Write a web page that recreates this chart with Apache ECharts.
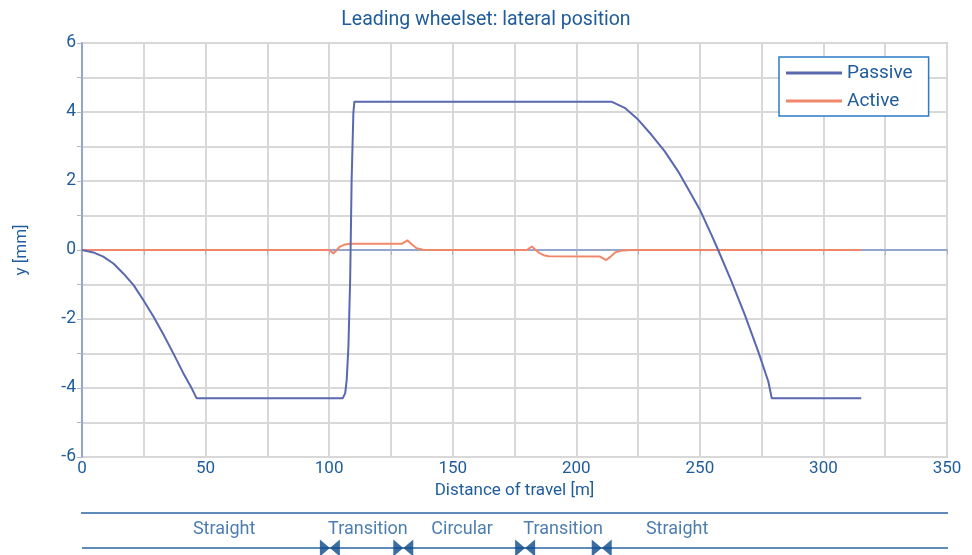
<!DOCTYPE html>
<html>
<head>
<meta charset="utf-8">
<script src="https://cdn.jsdelivr.net/npm/echarts@6/dist/echarts.min.js"></script>
<style>html,body{margin:0;padding:0;background:#fff}#c{width:972px;height:555px}</style>
</head>
<body>
<div id="c"></div>
<script>
// ---- data ----
const passiveX = [0, 4.6, 8.6, 12.7, 16.7, 20.8, 24.8, 28.9, 32.9, 36.9, 41, 44.4, 46.4, 105.5, 106.5, 107.1, 107.8, 108.5, 109.1, 109.8, 110.2, 214.2, 219.6, 225, 230.4, 235.8, 241.2, 246.6, 250, 254.7, 257.4, 262.8, 268.2, 273.6, 277.7, 279.1, 315.3];
const passiveY = [0, -0.07, -0.19, -0.39, -0.68, -1.01, -1.45, -1.93, -2.44, -2.99, -3.57, -4.01, -4.3, -4.3, -4.15, -3.77, -2.8, -0.87, 2.03, 3.96, 4.3, 4.3, 4.12, 3.78, 3.34, 2.86, 2.28, 1.6, 1.17, 0.44, 0, -0.91, -1.88, -2.94, -3.81, -4.3, -4.3];
const activeX = [0, 100.1, 101.7, 102.8, 104.4, 106, 108.5, 129.4, 131.7, 133.5, 135.4, 138, 142.6, 180, 182, 183.6, 185.3, 186.8, 188.7, 209.6, 212.1, 213.8, 215.7, 218, 221.7, 315.3];
const activeY = [0, 0, -0.1, -0.02, 0.1, 0.15, 0.18, 0.18, 0.28, 0.16, 0.05, 0.01, 0, 0, 0.1, 0, -0.1, -0.15, -0.18, -0.19, -0.29, -0.2, -0.07, -0.02, 0, 0];
const sectionNames = ['Straight', 'Transition', 'Circular', 'Transition', 'Straight'];
const sectionCenters = [57.5, 115.7, 153.8, 194.7, 240.8];
const boundaries = [100.3, 130, 179.3, 210.3];
const xTicks = [0, 50, 100, 150, 200, 250, 300, 350];
const yTicks = [-6, -4, -2, 0, 2, 4, 6];

const FONT = 'Roboto';
const TXT = '#1f5c9c';
const PASSIVE = '#5a68b0';
const ACTIVE = '#f0876a';
const zip = (a, b) => a.map((v, i) => [v, b[i]]);

const chart = echarts.init(document.getElementById('c'), null, {renderer: 'canvas'});
chart.setOption({
  animation: false,
  backgroundColor: '#fff',
  textStyle: {fontFamily: FONT},
  title: {
    text: 'Leading wheelset: lateral position',
    left: 'center', top: 5,
    textStyle: {color: TXT, fontSize: 19.5, fontWeight: 'normal', fontFamily: FONT}
  },
  legend: {
    data: [
      {name: 'Passive', icon: 'rect', itemStyle: {color: PASSIVE}},
      {name: 'Active', icon: 'rect', itemStyle: {color: ACTIVE}}
    ],
    orient: 'vertical',
    left: 779, top: 57,
    padding: [6, 16, 5, 7],
    itemGap: 8,
    itemWidth: 56, itemHeight: 3,
    itemTextGap: 16,
    borderColor: '#2a7cc4', borderWidth: 1.5,
    backgroundColor: '#fff',
    textStyle: {color: TXT, fontSize: 19, fontFamily: FONT, lineHeight: 20}
  },
  grid: [
    {left: 82, right: 25, top: 43, bottom: 98, show: true, borderColor: '#7d95cc', borderWidth: 1.5, backgroundColor: '#fff'},
    {left: 82, right: 25, top: 505, height: 50}
  ],
  xAxis: [
    {
      type: 'value', gridIndex: 0, min: 0, max: 350, interval: 25,
      name: 'Distance of travel [m]', nameLocation: 'middle', nameGap: 24,
      nameTextStyle: {color: TXT, fontSize: 17, fontFamily: FONT},
      axisLine: {show: true, lineStyle: {color: '#7d95cc', width: 1.5}},
      axisTick: {show: true, length: 5, inside: false, lineStyle: {color: '#b0b4c4'}},
      axisLabel: {color: TXT, fontSize: 17, margin: 3, fontFamily: FONT,
        formatter: v => xTicks.includes(v) ? String(v) : ''},
      splitLine: {show: true, lineStyle: {color: '#d8d8d8', width: 2}}
    },
    {type: 'value', gridIndex: 1, min: 0, max: 350, show: false}
  ],
  yAxis: [
    {
      type: 'value', gridIndex: 0, min: -6, max: 6, interval: 1,
      name: 'y [mm]', nameLocation: 'middle', nameGap: 52,
      nameTextStyle: {color: TXT, fontSize: 17, fontFamily: FONT},
      axisLine: {show: true, lineStyle: {color: '#7d95cc', width: 1.5}},
      axisTick: {show: true, length: 5, lineStyle: {color: '#b0b4c4'}},
      axisLabel: {color: TXT, fontSize: 17.5, margin: 6, fontFamily: FONT,
        formatter: v => yTicks.includes(v) ? String(v) : ''},
      splitLine: {show: true, lineStyle: {color: '#d8d8d8', width: 2}}
    },
    {type: 'value', gridIndex: 1, min: 0, max: 1, show: false}
  ],
  series: [
    {
      name: 'Passive', type: 'line', xAxisIndex: 0, yAxisIndex: 0,
      data: zip(passiveX, passiveY), symbol: 'none', smooth: false,
      lineStyle: {color: PASSIVE, width: 2}, itemStyle: {color: PASSIVE}, z: 3
    },
    {
      name: 'Active', type: 'line', xAxisIndex: 0, yAxisIndex: 0,
      data: zip(activeX, activeY), symbol: 'none', smooth: false,
      lineStyle: {color: ACTIVE, width: 2}, itemStyle: {color: ACTIVE}, z: 2
    },
    {
      type: 'line', xAxisIndex: 1, yAxisIndex: 1, clip: false, symbol: 'none', silent: true,
      data: [[-1.2, 0.84], [350.4, 0.84]],
      lineStyle: {color: '#2a64a4', width: 1.5}
    },
    {
      type: 'line', xAxisIndex: 1, yAxisIndex: 1, clip: false, symbol: 'none', silent: true,
      data: [[0, 0.14], [350.4, 0.14]],
      lineStyle: {color: '#2a64a4', width: 1.5}
    },
    {
      type: 'scatter', xAxisIndex: 1, yAxisIndex: 1, clip: false, silent: true,
      symbol: 'path://M0,0L10,8L0,16ZM20,0L10,8L20,16Z', symbolSize: [20, 17],
      itemStyle: {color: '#0d4a8c'},
      data: boundaries.map(b => [b, 0.14]), z: 4
    },
    {
      type: 'scatter', xAxisIndex: 1, yAxisIndex: 1, clip: false, silent: true,
      symbolSize: 0,
      label: {show: true, position: 'inside', formatter: p => p.name,
        color: TXT, fontSize: 18, fontFamily: FONT},
      data: sectionNames.map((n, i) => ({name: n, value: [sectionCenters[i], 0.52]}))
    }
  ]
});
</script>
</body>
</html>
